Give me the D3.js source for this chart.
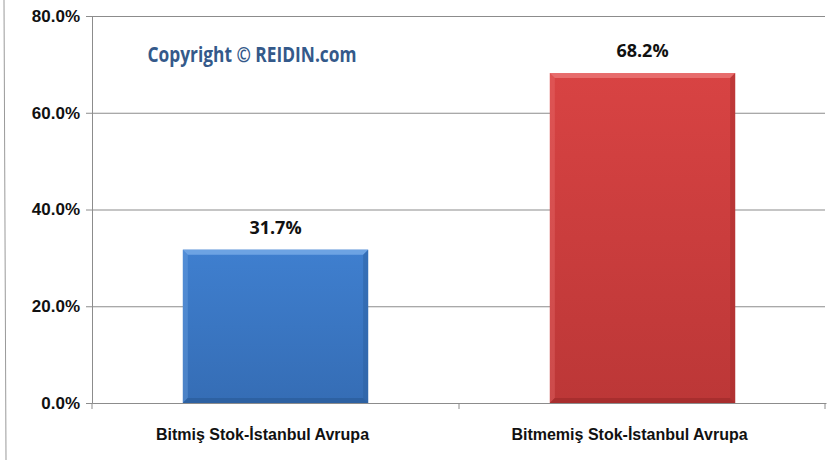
<!DOCTYPE html>
<html>
<head>
<meta charset="utf-8">
<script src="https://cdn.jsdelivr.net/npm/d3@7"></script>
<style>
  body { margin: 0; background: #fff; }
  svg { display: block; font-family: "Liberation Sans Narrow", "Open Sans", Arial, sans-serif; }
</style>
</head>
<body>
<svg id="chart" width="827" height="460"></svg>
<script>
// data
var categories = ["Bitmiş Stok-İstanbul Avrupa", "Bitmemiş Stok-İstanbul Avrupa"];
var values = [31.7, 68.2];
var yTicks = [0, 20, 40, 60, 80];
var barColors = [
  { light: "#76a9e6", mid: "#3f7fcf", dark: "#2c5f9f" },
  { light: "#ea7373", mid: "#d84343", dark: "#a52d2d" }
];

var svg = d3.select("#chart"),
  width = +svg.attr("width"),
  height = +svg.attr("height");

var margin = { left: 92, right: 1, top: 16, bottom: 57 };

var x = d3.scaleBand()
  .domain(categories)
  .range([margin.left, width - margin.right])
  .paddingInner(0.495)
  .paddingOuter(0.2475);

var y = d3.scaleLinear()
  .domain([0, 80])
  .range([height - margin.bottom, margin.top]);

// outer frame line on the left
svg.append("line")
  .attr("x1", 4).attr("x2", 6)
  .attr("y1", 0).attr("y2", height)
  .attr("stroke", "#9a9a9a").attr("stroke-width", 1);

// gridlines + y axis
var yAxis = d3.axisLeft(y)
  .tickValues(yTicks)
  .tickSize(6)
  .tickFormat(function(d) { return d.toFixed(1) + "%"; });

var gy = svg.append("g")
  .attr("transform", "translate(" + margin.left + ",0)")
  .call(yAxis);
gy.select(".domain").attr("stroke", "#8c8c8c");
gy.selectAll(".tick line").attr("stroke", "#8c8c8c");
gy.selectAll(".tick text")
  .attr("x", -12)
  .attr("fill", "#111")
  .style("font-size", "17px")
  .style("font-weight", "bold");

svg.append("g")
  .selectAll("line")
  .data(yTicks.filter(function(d) { return d > 0; }))
  .enter().append("line")
  .attr("x1", margin.left)
  .attr("x2", width - margin.right - 1)
  .attr("y1", function(d) { return y(d) + 0.5; })
  .attr("y2", function(d) { return y(d) + 0.5; })
  .attr("stroke", "#8c8c8c")
  .attr("stroke-width", 1.2);

// gradients
var defs = svg.append("defs");
barColors.forEach(function(c, i) {
  var g = defs.append("linearGradient")
    .attr("id", "grad" + i)
    .attr("x1", 0).attr("x2", 0).attr("y1", 0).attr("y2", 1);
  g.append("stop").attr("offset", "0%").attr("stop-color", c.mid);
  g.append("stop").attr("offset", "100%").attr("stop-color", d3.interpolateRgb(c.mid, c.dark)(0.55));
});

// bars with a bevel look
var bev = 5;
var bars = svg.append("g")
  .selectAll("g")
  .data(values)
  .enter().append("g");

bars.append("rect")
  .attr("x", function(d, i) { return x(categories[i]); })
  .attr("y", function(d) { return y(d); })
  .attr("width", x.bandwidth())
  .attr("height", function(d) { return y(0) - y(d); })
  .attr("fill", function(d, i) { return "url(#grad" + i + ")"; });

function bevelPoly(sel, side, colorKey, opacity) {
  sel.append("polygon")
    .attr("points", function(d, i) {
      var x0 = x(categories[i]), x1 = x0 + x.bandwidth();
      var y0 = y(d), y1 = y(0);
      var p;
      if (side === "top") p = [[x0, y0], [x1, y0], [x1 - bev, y0 + bev], [x0 + bev, y0 + bev]];
      if (side === "bottom") p = [[x0, y1], [x1, y1], [x1 - bev, y1 - bev], [x0 + bev, y1 - bev]];
      if (side === "left") p = [[x0, y0], [x0 + bev, y0 + bev], [x0 + bev, y1 - bev], [x0, y1]];
      if (side === "right") p = [[x1, y0], [x1 - bev, y0 + bev], [x1 - bev, y1 - bev], [x1, y1]];
      return p.map(function(q) { return q.join(","); }).join(" ");
    })
    .attr("fill", function(d, i) { return barColors[i][colorKey]; })
    .attr("opacity", opacity);
}
bevelPoly(bars, "top", "light", 0.85);
bevelPoly(bars, "left", "light", 0.35);
bevelPoly(bars, "right", "dark", 0.5);
bevelPoly(bars, "bottom", "dark", 0.85);

// value labels
bars.append("text")
  .attr("x", function(d, i) { return x(categories[i]) + x.bandwidth() / 2; })
  .attr("y", function(d) { return y(d) - 16; })
  .attr("text-anchor", "middle")
  .attr("fill", "#111")
  .style("font-size", "18px")
  .style("font-weight", "bold")
  .text(function(d) { return d.toFixed(1) + "%"; });

// x axis
var xAxis = d3.axisBottom(x).tickSize(0).tickPadding(26);
var gx = svg.append("g")
  .attr("transform", "translate(0," + y(0) + ")")
  .call(xAxis);
gx.select(".domain").attr("stroke", "#8c8c8c");
gx.selectAll(".tick text")
  .attr("dx", -13)
  .attr("fill", "#111")
  .style("font-size", "16px")
  .style("font-weight", "bold");

// category boundary ticks
var bounds = [margin.left, (margin.left + width - margin.right) / 2, width - margin.right - 1];
svg.append("g")
  .selectAll("line")
  .data(bounds)
  .enter().append("line")
  .attr("x1", function(d) { return d; })
  .attr("x2", function(d) { return d; })
  .attr("y1", y(0))
  .attr("y2", y(0) + 6)
  .attr("stroke", "#8c8c8c");

// watermark
svg.append("text")
  .attr("x", 252)
  .attr("y", 62)
  .attr("text-anchor", "middle")
  .attr("fill", "#34598a")
  .style("font-size", "21px")
  .style("font-weight", "bold")
  .attr("textLength", 209)
  .attr("lengthAdjust", "spacingAndGlyphs")
  .text("Copyright © REIDIN.com");
</script>
</body>
</html>
